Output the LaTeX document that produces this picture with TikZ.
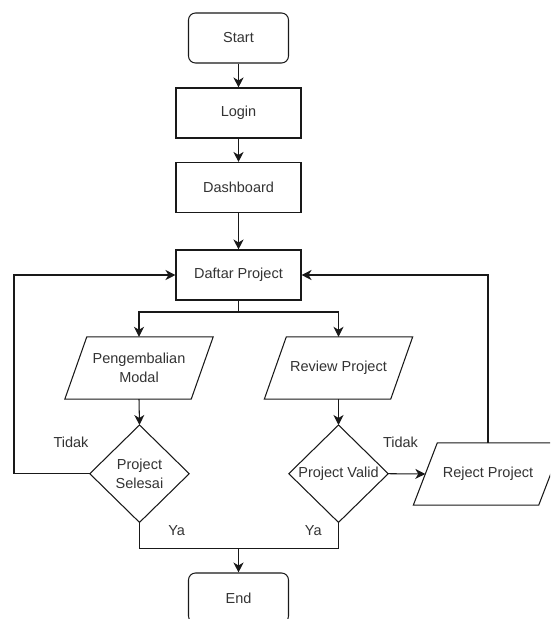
\documentclass[tikz,border=0pt]{standalone}
\usepackage{fontspec}
\setmainfont{Liberation Sans}
\usetikzlibrary{arrows.meta,calc}
\begin{document}
\begin{tikzpicture}[x=1pt,y=-1pt,
  every node/.style={font=\fontsize{14.5}{18.5}\selectfont, text=black!80, inner sep=0pt, align=center},
  line/.style={draw=black!90, line width=1.05pt},
  arr/.style={line, -{Stealth[length=10pt,width=10pt,inset=3pt]}},
  term/.style={line, rounded corners=7pt, minimum width=100pt, minimum height=50pt},
  proc/.style={line, minimum width=125pt, minimum height=50pt},
  para/.style={minimum height=62pt},
  dec/.style={minimum width=99pt, minimum height=97pt},
  lbl/.style={anchor=base}]
\fill[white] (0,0) rectangle (550,619);
\clip (0,0) rectangle (550,619);

\node[term] (start) at (238.5,38) {Start};
\node[proc] (login) at (238.5,113) {Login};
\node[proc] (dash) at (238.5,187.5) {Dashboard};
\node[proc] (daftar) at (238.5,275) {Daftar Project};

\node[para, minimum width=148pt] (pm) at (139,368) {Pengembalian\\Modal};
\draw[line] ($(pm.north west)+(22,0)$) -- (pm.north east) -- ($(pm.south east)-(22,0)$) -- (pm.south west) -- cycle;
\node[para, minimum width=148pt] (rev) at (338.5,368) {Review Project};
\draw[line] ($(rev.north west)+(22,0)$) -- (rev.north east) -- ($(rev.south east)-(22,0)$) -- (rev.south west) -- cycle;

\node[dec] (sel) at (139.5,473.7) {Project\\Selesai};
\draw[line] (sel.north) -- (sel.east) -- (sel.south) -- (sel.west) -- cycle;
\node[dec] (valid) at (338.5,473.7) {Project Valid};
\draw[line] (valid.north) -- (valid.east) -- (valid.south) -- (valid.west) -- cycle;

\node[para, minimum width=149pt] (rej) at (488,474) {Reject Project};
\draw[line] ($(rej.north west)+(24,0)$) -- (rej.north east) -- ($(rej.south east)-(24,0)$) -- (rej.south west) -- cycle;

\node[term] (end) at (238.5,598) {End};

\coordinate (split) at (238.5,312);
\coordinate (lx) at (14,275);
\coordinate (merge) at (238.5,548.3);

\draw[arr] (start) -- (login);
\draw[arr] (login) -- (dash);
\draw[arr] (dash) -- (daftar);
\draw[line] (daftar.south) -- (split);
\draw[arr] (split) -| (pm.north);
\draw[arr] (split) -| (rev.north);
\draw[arr] (pm.south) -- (sel.north);
\draw[arr] (rev.south) -- (valid.north);
\draw[arr] (sel.west) -| (lx) -- (daftar.west);
\draw[arr] (valid.east) -- ($(rej.west)+(12,0)$);
\draw[arr] (rej.north) |- (daftar.east);
\draw[line] (sel.south) |- (merge);
\draw[line] (valid.south) |- (merge);
\draw[arr] (merge) -- (end);

\node[lbl] (t1) at (71,447) {Tidak};
\node[lbl] (t2) at (400.5,447) {Tidak};
\node[lbl] (y1) at (176.7,535) {Ya};
\node[lbl] (y2) at (313.3,535) {Ya};
\end{tikzpicture}
\end{document}
